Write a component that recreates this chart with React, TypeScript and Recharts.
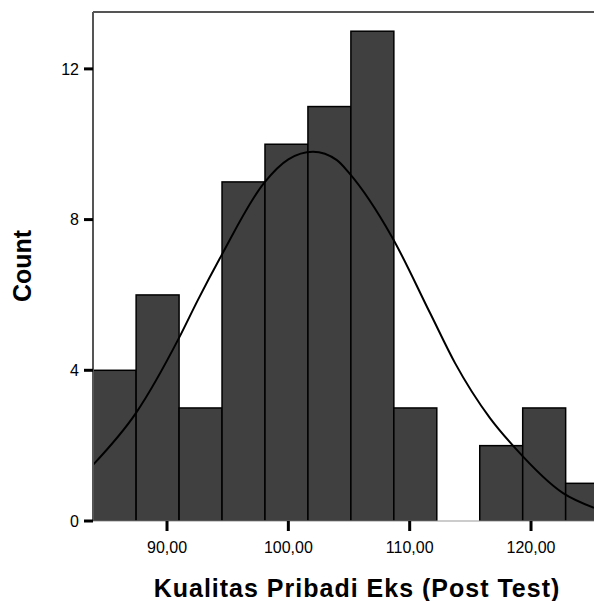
import React from "react";
import { Bar, ComposedChart, Line, ReferenceLine, XAxis, YAxis } from "recharts";

// histogram bins (bin centre, count)
const binCenters = [85.67, 89.21, 92.75, 96.29, 99.83, 103.37, 106.91, 110.45, 113.99, 117.53, 121.07, 124.61];
const binCounts = [4, 6, 3, 9, 10, 11, 13, 3, 0, 2, 3, 1];
const binWidth = 3.54;

// fitted normal curve
const curveX = [83.9, 87.45, 90.99, 92.55, 94.37, 97.99, 100.0, 102.03, 104.0, 105.0, 108.54, 111.68, 113.74, 116.62, 118.68, 122.64, 125.19];
const curveY = [1.49, 2.87, 4.86, 5.87, 6.98, 8.97, 9.6, 9.8, 9.58, 9.24, 7.54, 5.52, 4.19, 2.73, 1.94, 0.74, 0.35];

const xTicks = [90, 100, 110, 120];
const xTickLabels = ["90,00", "100,00", "110,00", "120,00"];
const yTicks = [0, 4, 8, 12];

const xDomain: [number, number] = [83.9, 130.63];
const yDomain: [number, number] = [0, 13.51];

const FONT = "Arial, 'Liberation Sans', sans-serif";

const CHART_W = 700;
const CHART_H = 601;
const MARGIN = { top: 12, right: 40, bottom: 30, left: 0 };
const Y_AXIS_W = 93;
const plotWidth = CHART_W - MARGIN.left - MARGIN.right - Y_AXIS_W;
const barPx = (binWidth * plotWidth) / (xDomain[1] - xDomain[0]);

const bins = binCenters.map((x, i) => ({ x, count: binCounts[i] }));
const curve = curveX.map((x, i) => ({ x, y: curveY[i] }));

// recharts squeezes bars on a number axis, so widen each one around its own centre
function BinRect(props: any) {
  const { x, y, width, height } = props;
  if (!height || height <= 0) return null;
  const cx = x + width / 2;
  return (
    <rect
      x={cx - barPx / 2}
      y={y}
      width={barPx}
      height={height}
      fill="#404040"
      stroke="#000"
      strokeWidth={1.5}
    />
  );
}

export default function App() {
  return (
    <div
      style={{
        position: "absolute",
        left: 0,
        top: 0,
        width: 594,
        height: 601,
        overflow: "hidden",
        background: "#fff",
      }}
    >
      <ComposedChart width={CHART_W} height={CHART_H} data={bins} margin={MARGIN}>
        <XAxis
          type="number"
          dataKey="x"
          domain={xDomain}
          allowDataOverflow
          ticks={xTicks}
          tickFormatter={(v) => xTickLabels[xTicks.indexOf(v)] ?? String(v)}
          height={50}
          tickSize={10}
          tickMargin={11}
          tickLine={{ stroke: "#000", strokeWidth: 3 }}
          axisLine={{ stroke: "#999", strokeWidth: 1 }}
          tick={{ fill: "#000", fontSize: 16, fontFamily: FONT }}
          label={{
            content: () => (
              <text
                x={357}
                y={597}
                textAnchor="middle"
                fontFamily={FONT}
                fontWeight="bold"
                fontSize={25}
                letterSpacing={1}
                fill="#000"
              >
                Kualitas Pribadi Eks (Post Test)
              </text>
            ),
          }}
        />
        <YAxis
          type="number"
          domain={yDomain}
          allowDataOverflow
          ticks={yTicks}
          width={Y_AXIS_W}
          tickSize={9}
          tickMargin={5}
          tickLine={{ stroke: "#000", strokeWidth: 3 }}
          axisLine={{ stroke: "#555", strokeWidth: 2 }}
          tick={{ fill: "#000", fontSize: 16, fontFamily: FONT }}
          label={{
            content: () => (
              <text
                x={22}
                y={266}
                transform="rotate(-90 22 266)"
                textAnchor="middle"
                dominantBaseline="central"
                fontFamily={FONT}
                fontWeight="bold"
                fontSize={25}
                fill="#000"
              >
                Count
              </text>
            ),
          }}
        />
        <ReferenceLine y={yDomain[1]} stroke="#555" strokeWidth={2} />
        <Bar dataKey="count" shape={BinRect} isAnimationActive={false} />
        <Line
          data={curve}
          dataKey="y"
          type="monotone"
          stroke="#000"
          strokeWidth={2}
          dot={false}
          activeDot={false}
          isAnimationActive={false}
        />
      </ComposedChart>
    </div>
  );
}
